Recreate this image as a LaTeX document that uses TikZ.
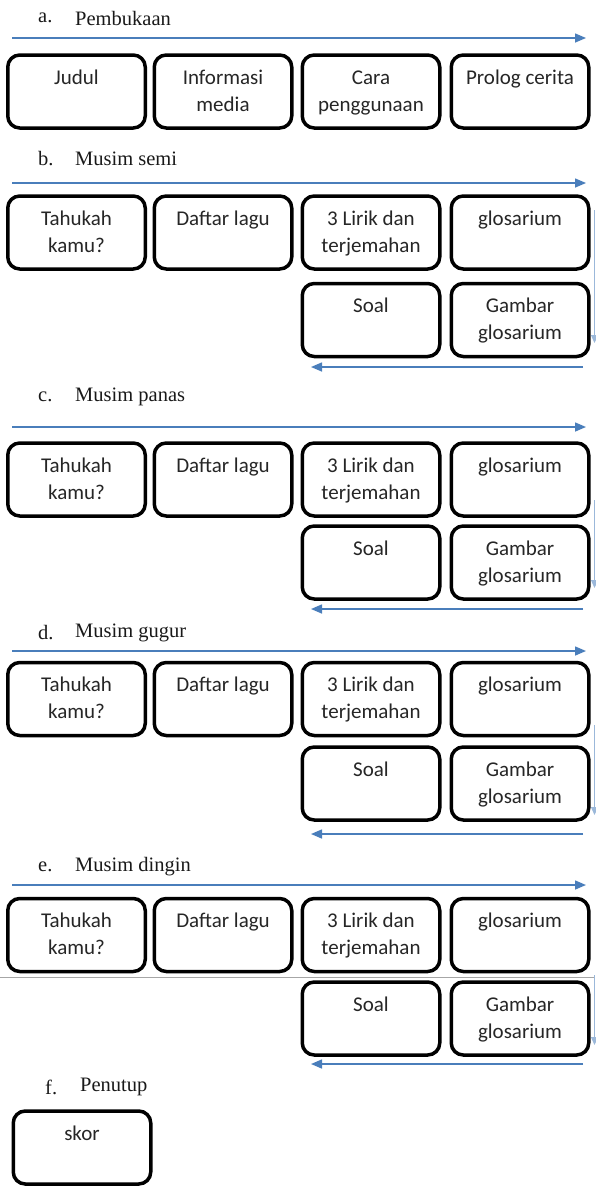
\documentclass[tikz,border=0pt]{standalone}
\usepackage{fontspec}
\newfontfamily\boxfont{Carlito}
\newfontfamily\lblfont{Liberation Serif}
\usetikzlibrary{arrows.meta}
\definecolor{arrowblue}{HTML}{4A7EBB}
\definecolor{txtgray}{HTML}{262626}
\tikzset{
  boxst/.style={draw=black, line width=3.5pt, rounded corners=12pt, minimum width=137.5pt, minimum height=73pt, inner sep=0pt, fill=white},
  txt/.style={font=\boxfont\fontsize{21}{27}\selectfont, align=center, inner sep=0pt, anchor=north, text=txtgray},
  lbl/.style={font=\lblfont\fontsize{20.5}{22}\selectfont, inner sep=0pt, anchor=west, text=black!90},
  flow/.style={draw=arrowblue, line width=1.5pt, -{Triangle[length=11pt,width=9pt]}},
  vflow/.style={draw=arrowblue!55, line width=1.2pt, -{Triangle[length=8pt,width=7pt]}},
  sep/.style={draw=black!35, line width=0.8pt}
}
\newcommand\myst{\rule{0pt}{17pt}}
\newcommand\mybox[4]{%
  \node[boxst] (#1) at (#2,#3) {};
  \node[txt] (#1t) at ([yshift=-14pt]#1.north) {\myst #4};}
\begin{document}
\begin{tikzpicture}[x=1pt,y=-1pt]
\useasboundingbox (0,0) rectangle (595,1186);
% ---------- a. Pembukaan
\node[lbl] (la) at (38,18) {a.};
\node[lbl] (lat) at (75,18) {Pembukaan};
\coordinate (as) at (12,38); \coordinate (ae) at (586,38);
\draw[flow] (as) -- (ae);
\mybox{a1}{76.5}{91.5}{Judul}
\mybox{a2}{223}{91.5}{Informasi\\media}
\mybox{a3}{371}{91.5}{Cara\\penggunaan}
\mybox{a4}{520}{91.5}{Prolog cerita}
% ---------- b. Musim semi
\node[lbl] (lb) at (38,159) {b.};
\node[lbl] (lbt) at (75,159) {Musim semi};
\coordinate (bs) at (12,183); \coordinate (be) at (586,183);
\draw[flow] (bs) -- (be);
\mybox{b1}{76.5}{232.5}{Tahukah\\kamu?}
\mybox{b2}{223}{232.5}{Daftar lagu}
\mybox{b3}{371}{232.5}{3 Lirik dan\\terjemahan}
\mybox{b4}{520}{232.5}{glosarium}
\mybox{b5}{371}{320}{Soal}
\mybox{b6}{520}{320}{Gambar\\glosarium}
\coordinate (bvs) at (594.5,210); \coordinate (bve) at (594.5,343);
\draw[vflow] (bvs) -- (bve);
\coordinate (brs) at (583,367); \coordinate (bre) at (311,367);
\draw[flow] (brs) -- (bre);
% ---------- c. Musim panas
\node[lbl] (lc) at (38,397) {c.};
\node[lbl] (lct) at (75,397) {Musim panas};
\coordinate (cs) at (12,427); \coordinate (ce) at (586,427);
\draw[flow] (cs) -- (ce);
\mybox{c1}{76.5}{479.5}{Tahukah\\kamu?}
\mybox{c2}{223}{479.5}{Daftar lagu}
\mybox{c3}{371}{479.5}{3 Lirik dan\\terjemahan}
\mybox{c4}{520}{479.5}{glosarium}
\mybox{c5}{371}{562.5}{Soal}
\mybox{c6}{520}{562.5}{Gambar\\glosarium}
\coordinate (cvs) at (594.5,500); \coordinate (cve) at (594.5,588);
\draw[vflow] (cvs) -- (cve);
\coordinate (crs) at (583,609); \coordinate (cre) at (311,609);
\draw[flow] (crs) -- (cre);
% ---------- d. Musim gugur
\node[lbl] (ld) at (38,633) {d.};
\node[lbl] (ldt) at (75,633) {Musim gugur};
\coordinate (ds) at (12,651); \coordinate (de) at (586,651);
\draw[flow] (ds) -- (de);
\mybox{d1}{76.5}{699}{Tahukah\\kamu?}
\mybox{d2}{223}{699}{Daftar lagu}
\mybox{d3}{371}{699}{3 Lirik dan\\terjemahan}
\mybox{d4}{520}{699}{glosarium}
\mybox{d5}{371}{783.5}{Soal}
\mybox{d6}{520}{783.5}{Gambar\\glosarium}
\coordinate (dvs) at (594.5,725); \coordinate (dve) at (594.5,815);
\draw[vflow] (dvs) -- (dve);
\coordinate (drs) at (583,834); \coordinate (dre) at (311,834);
\draw[flow] (drs) -- (dre);
% ---------- e. Musim dingin
\node[lbl] (le) at (38,867) {e.};
\node[lbl] (let) at (75,867) {Musim dingin};
\coordinate (es) at (12,885); \coordinate (ee) at (586,885);
\draw[flow] (es) -- (ee);
\coordinate (gl) at (0,977); \coordinate (gr) at (595,977);
\draw[sep] (gl) -- (gr);
\mybox{e1}{76.5}{935}{Tahukah\\kamu?}
\mybox{e2}{223}{935}{Daftar lagu}
\mybox{e3}{371}{935}{3 Lirik dan\\terjemahan}
\mybox{e4}{520}{935}{glosarium}
\mybox{e5}{371}{1018.5}{Soal}
\mybox{e6}{520}{1018.5}{Gambar\\glosarium}
\coordinate (evs) at (594.5,975); \coordinate (eve) at (594.5,1045);
\draw[vflow] (evs) -- (eve);
\coordinate (ers) at (583,1064); \coordinate (ere) at (311,1064);
\draw[flow] (ers) -- (ere);
% ---------- f. Penutup
\node[lbl] (lf) at (45,1087) {f.};
\node[lbl] (lft) at (80,1087) {Penutup};
\mybox{f1}{82}{1147.5}{skor}
\end{tikzpicture}
\end{document}
